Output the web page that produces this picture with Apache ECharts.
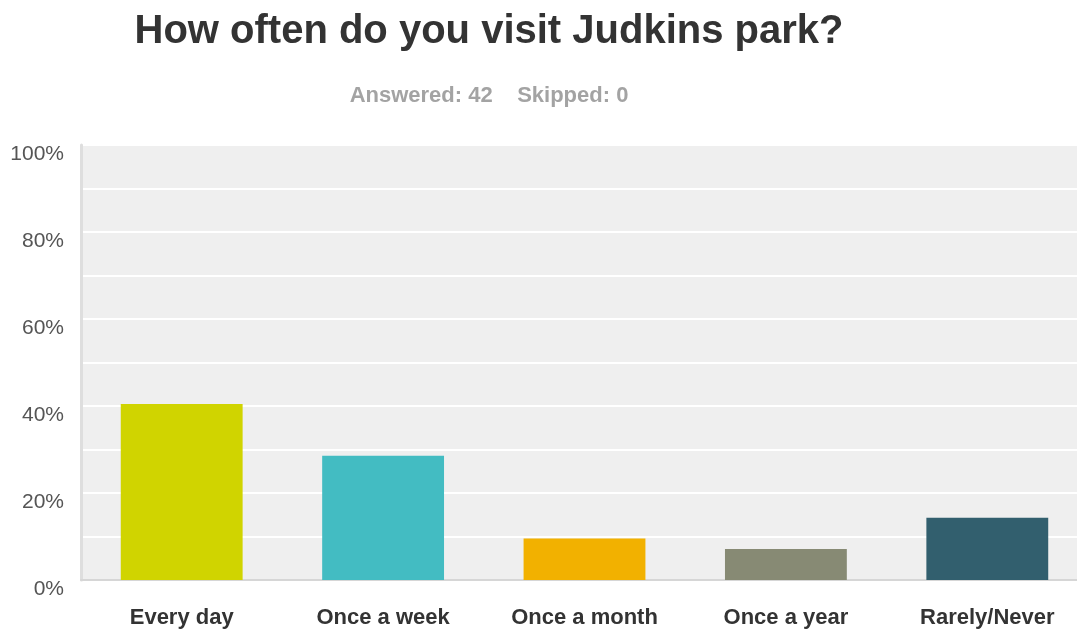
<!DOCTYPE html>
<html>
<head>
<meta charset="utf-8">
<script src="https://cdn.jsdelivr.net/npm/echarts@6/dist/echarts.min.js"></script>
<style>
  html, body { margin: 0; padding: 0; background: #ffffff; }
  #chart { width: 1077px; height: 633px; }
</style>
</head>
<body>
<div id="chart"></div>
<script>
// Survey answers (42 responses), share of respondents in percent
const categories = ['Every day', 'Once a week', 'Once a month', 'Once a year', 'Rarely/Never'];
const percentages = [40.48, 28.57, 9.52, 7.14, 14.29];
const barColors = ['#d0d400', '#43bcc2', '#f2b100', '#878a74', '#325f6e'];
const yTickLabels = ['0%', '20%', '40%', '60%', '80%', '100%'];

const FONT = 'Liberation Sans, Arial, Helvetica, sans-serif';

const chart = echarts.init(document.getElementById('chart'), null, { renderer: 'canvas' });

chart.setOption({
  animation: false,
  backgroundColor: '#ffffff',
  title: [
    {
      text: 'How often do you visit Judkins park?',
      left: 484, top: 7, textAlign: 'center',
      textStyle: { fontFamily: FONT, fontSize: 40, fontWeight: 'bold', color: '#333333' }
    },
    {
      text: 'Answered: 42    Skipped: 0',
      left: 484, top: 80, textAlign: 'center',
      textStyle: { fontFamily: FONT, fontSize: 22, fontWeight: 'bold', color: '#a3a3a3' }
    }
  ],
  // plot area runs slightly past the right edge of the page
  grid: {
    left: 81, top: 145, width: 1007, height: 435,
    outerBoundsMode: 'none',
    show: true, backgroundColor: '#efefef', borderWidth: 0
  },
  xAxis: {
    type: 'category',
    data: categories,
    axisLine: { show: true, lineStyle: { color: '#d6d6d6', width: 2 } },
    axisTick: { show: false },
    axisLabel: {
      margin: 27,
      fontFamily: FONT, fontSize: 22, fontWeight: 'bold', color: '#333333'
    }
  },
  yAxis: {
    type: 'value',
    min: 0, max: 100, interval: 10,
    axisLine: { show: true, lineStyle: { color: '#dedede', width: 3 } },
    axisTick: { show: false },
    splitLine: { show: true, lineStyle: { color: '#ffffff', width: 2 } },
    axisLabel: {
      margin: 17,
      verticalAlign: 'top',
      lineHeight: 19,
      fontFamily: FONT, fontSize: 21, color: '#555555',
      formatter: function (v) {
        return v % 20 === 0 ? yTickLabels[v / 20] : '';
      }
    }
  },
  series: [{
    type: 'bar',
    barWidth: '60.5%',
    data: percentages.map(function (v, i) {
      return { value: v, itemStyle: { color: barColors[i] } };
    }),
    z: 3
  }]
});
</script>
</body>
</html>
